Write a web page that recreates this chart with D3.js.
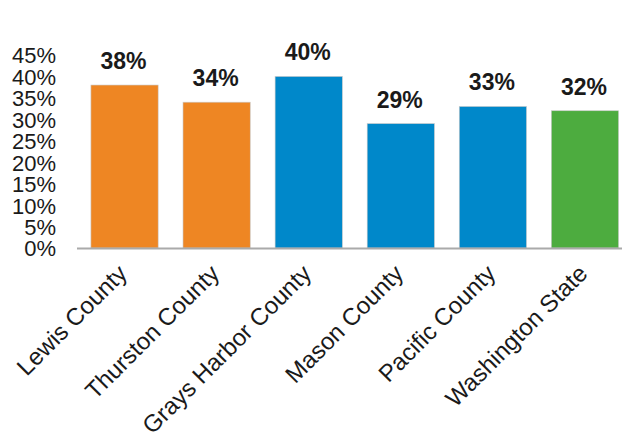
<!DOCTYPE html>
<html>
<head>
<meta charset="utf-8">
<script src="https://cdn.jsdelivr.net/npm/d3@7"></script>
<style>
  html, body { margin: 0; padding: 0; background: #fff; }
  svg { display: block; font-family: "Liberation Sans", Arial, sans-serif; }
</style>
</head>
<body>
<svg id="chart" width="623" height="439"></svg>
<script>
const categories = ["Lewis County", "Thurston County", "Grays Harbor County", "Mason County", "Pacific County", "Washington State"];
const values = [38, 34, 40, 29, 33, 32];
const barColors = ["#EE8623", "#EE8623", "#0088CA", "#0088CA", "#0088CA", "#4DAC3F"];
const yTicks = [0, 5, 10, 15, 20, 25, 30, 35, 40, 45];

const svg = d3.select("#chart");

const x = d3.scaleBand()
  .domain(categories)
  .range([78.5, 631])
  .paddingInner(0.27)
  .paddingOuter(0.135);

const y = d3.scaleLinear()
  .domain([0, 45])
  .range([248, 55]);

// Y axis labels (no line, no ticks)
const yAxis = d3.axisLeft(y)
  .tickValues(yTicks)
  .tickFormat(d => d + "%")
  .tickSize(0)
  .tickPadding(0);

const yG = svg.append("g")
  .attr("transform", "translate(56,0)")
  .call(yAxis);
yG.select(".domain").remove();
yG.selectAll("text")
  .attr("font-size", 22)
  .attr("font-family", "Liberation Sans, Arial, sans-serif")
  .attr("fill", "#1a1a1a")
  .attr("dy", "0.36em");

// Bars
svg.append("g").selectAll("rect")
  .data(categories)
  .join("rect")
  .attr("x", d => x(d))
  .attr("y", (d, i) => y(values[i]))
  .attr("width", x.bandwidth())
  .attr("height", (d, i) => y(0) - y(values[i]))
  .attr("fill", (d, i) => barColors[i])
  .attr("stroke", "#c9c9c9")
  .attr("stroke-width", 0.6);

// Baseline
svg.append("line")
  .attr("x1", 77).attr("x2", 622)
  .attr("y1", y(0) + 0.5).attr("y2", y(0) + 0.5)
  .attr("stroke", "#aaaaaa")
  .attr("stroke-width", 2);

// Value labels
svg.append("g").selectAll("text")
  .data(categories)
  .join("text")
  .attr("x", d => x(d) + x.bandwidth() / 2 - 1)
  .attr("y", (d, i) => y(values[i]) - 16)
  .attr("text-anchor", "middle")
  .attr("font-size", 23)
  .attr("font-weight", "bold")
  .attr("fill", "#1a1a1a")
  .text((d, i) => values[i] + "%");

// X labels, rotated
svg.append("g").selectAll("text")
  .data(categories)
  .join("text")
  .attr("transform", d => `translate(${x(d) + x.bandwidth() / 2 + 4},${275}) rotate(-45)`)
  .attr("text-anchor", "end")
  .attr("font-size", 24)
  .attr("fill", "#1a1a1a")
  .text(d => d);
</script>
</body>
</html>
